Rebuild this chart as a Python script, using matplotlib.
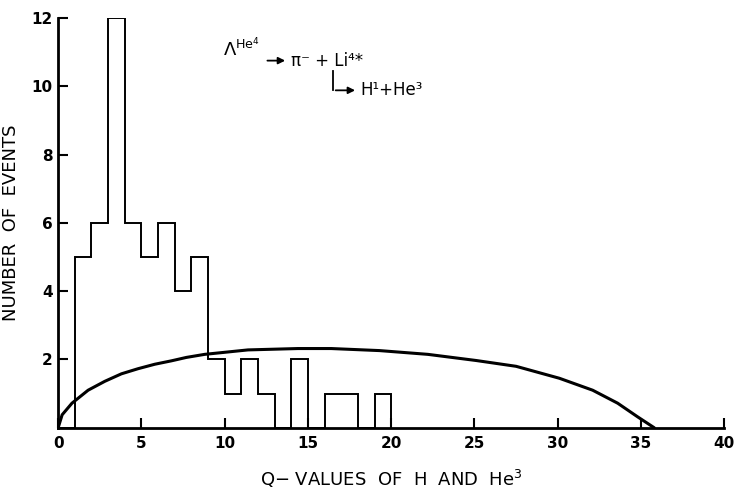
import numpy as np
import matplotlib
matplotlib.use("Agg")
import matplotlib.pyplot as plt

# histogram of Q-values, bins 1 unit wide
bin_edges = list(range(0, 21))
counts = [0, 5, 6, 12, 6, 5, 6, 4, 5, 2, 1, 2, 1, 0, 2, 0, 1, 1, 0, 1]

# phase space curve
curve_q = [0, 0.24, 0.83, 1.8, 2.8, 3.8, 4.8, 5.8, 6.8, 7.7, 8.8, 11.4, 14.4,
           16.4, 19.3, 22.2, 25.1, 27.5, 30.1, 32.1, 33.6, 34.8, 35.8]
curve_n = [0, 0.38, 0.72, 1.1, 1.36, 1.58, 1.73, 1.86, 1.96, 2.06, 2.15, 2.28, 2.32,
           2.32, 2.26, 2.15, 1.97, 1.8, 1.45, 1.1, 0.72, 0.32, 0]

x_ticks = [0, 5, 10, 15, 20, 25, 30, 35, 40]
y_ticks = [2, 4, 6, 8, 10, 12]

fig = plt.figure(figsize=(7.36, 4.98), dpi=100)
ax = fig.add_axes([0.079, 0.141, 0.905, 0.823])

ax.stairs(counts, bin_edges, color="black", linewidth=1.4)
ax.plot(curve_q, curve_n, color="black", linewidth=2.2, solid_capstyle="round")

ax.set_xlim(0, 40)
ax.set_ylim(0, 12)
ax.spines["top"].set_visible(False)
ax.spines["right"].set_visible(False)
ax.spines["left"].set_linewidth(2)
ax.spines["bottom"].set_linewidth(2)

ax.set_xticks(x_ticks)
ax.set_yticks(y_ticks)
ax.tick_params(axis="both", direction="in", length=7, width=1.5,
               labelsize=11, pad=6)
ax.tick_params(axis="y", pad=4)
for lab in ax.get_xticklabels() + ax.get_yticklabels():
    lab.set_fontweight("bold")

ax.set_ylabel("NUMBER  OF  EVENTS", fontsize=13, labelpad=8)
ax.set_xlabel(r"Q$-$ VALUES  OF  H  AND  He$^3$", fontsize=13, labelpad=12)

# reaction annotation
ax.text(9.9, 11.1, r"$\Lambda^{\mathrm{He}^4}$", fontsize=13, va="center", ha="left")
ax.annotate("", xy=(13.8, 10.75), xytext=(12.4, 10.75),
            arrowprops=dict(arrowstyle="-|>", color="black", lw=1.3))
ax.text(14.0, 10.75, "π⁻ + Li⁴*", fontsize=12, va="center", ha="left")
ax.plot([16.5, 16.5], [10.45, 9.88], color="black", linewidth=1.3)
ax.annotate("", xy=(18.0, 9.88), xytext=(16.5, 9.88),
            arrowprops=dict(arrowstyle="-|>", color="black", lw=1.3))
ax.text(18.15, 9.88, "H¹+He³", fontsize=12, va="center", ha="left")

fig.savefig("out.png", dpi=100)
